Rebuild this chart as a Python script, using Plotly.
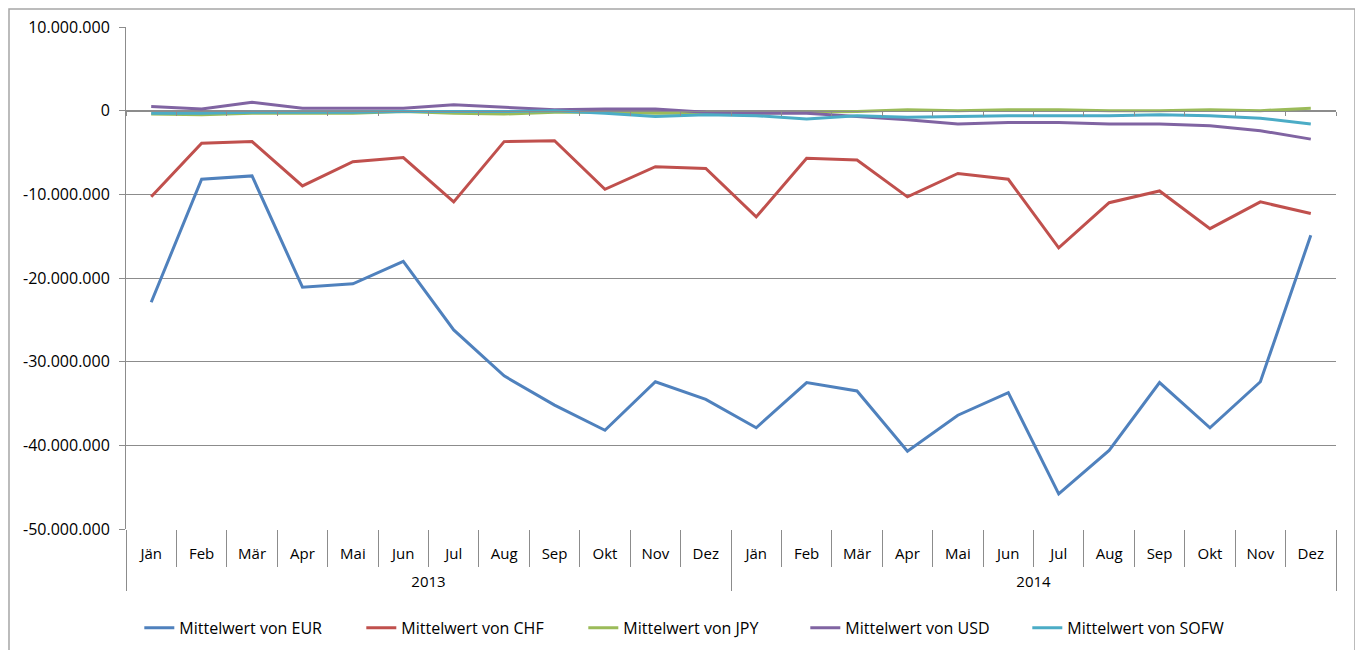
import plotly.graph_objects as go

years = ["2013"] * 12 + ["2014"] * 12
months = ["Jän", "Feb", "Mär", "Apr", "Mai", "Jun", "Jul", "Aug", "Sep", "Okt", "Nov", "Dez"] * 2

eur = [-22.9, -8.2, -7.8, -21.1, -20.7, -18.0, -26.2, -31.7, -35.2, -38.2, -32.4, -34.5,
       -37.9, -32.5, -33.5, -40.7, -36.4, -33.7, -45.8, -40.6, -32.5, -37.9, -32.4, -14.9]
chf = [-10.3, -3.9, -3.7, -9.0, -6.1, -5.6, -10.9, -3.7, -3.6, -9.4, -6.7, -6.9,
       -12.7, -5.7, -5.9, -10.3, -7.5, -8.2, -16.4, -11.0, -9.6, -14.1, -10.9, -12.3]
jpy = [-0.4, -0.5, -0.3, -0.3, -0.3, -0.1, -0.3, -0.4, -0.2, -0.2, -0.3, -0.3,
       -0.3, -0.2, -0.1, 0.1, 0.0, 0.1, 0.1, 0.0, 0.0, 0.1, 0.0, 0.3]
usd = [0.5, 0.2, 1.0, 0.3, 0.3, 0.3, 0.7, 0.4, 0.1, 0.2, 0.2, -0.2,
       -0.3, -0.3, -0.7, -1.1, -1.6, -1.4, -1.4, -1.6, -1.6, -1.8, -2.4, -3.4]
sofw = [-0.3, -0.3, -0.2, -0.2, -0.2, -0.1, -0.1, -0.1, 0.0, -0.3, -0.7, -0.5,
        -0.6, -1.0, -0.6, -0.8, -0.7, -0.6, -0.6, -0.6, -0.5, -0.6, -0.9, -1.6]

series_names = ["Mittelwert von EUR", "Mittelwert von CHF", "Mittelwert von JPY",
                "Mittelwert von USD", "Mittelwert von SOFW"]
series_values = [eur, chf, jpy, usd, sofw]
series_colors = ["#4F81BD", "#C0504D", "#9BBB59", "#8064A2", "#4BACC6"]

y_tickvals = [10e6, 0, -10e6, -20e6, -30e6, -40e6, -50e6]
y_ticktext = ["10.000.000", "0", "-10.000.000", "-20.000.000", "-30.000.000",
              "-40.000.000", "-50.000.000"]

FONT = "Open Sans"
GRID = "#8C8C8C"
XR = [-0.5, len(months) - 0.5]
# outer-level labels pushed one line down (Excel shows the year row well below the months)
year_labels = ["<br>" + y for y in years]

fig = go.Figure()
for name, vals, col in zip(series_names, series_values, series_colors):
    fig.add_trace(go.Scatter(
        x=[year_labels, months], y=[v * 1e6 for v in vals], name=name, mode="lines",
        line=dict(color=col, width=3), xaxis="x", yaxis="y"))

# helper trace for the category axis crossing at zero (tick marks only)
fig.add_trace(go.Scatter(x=[year_labels, months], y=[None] * 24, xaxis="x2", yaxis="y",
                         showlegend=False, hoverinfo="skip", mode="lines"))

fig.update_layout(
    width=1355, height=642,
    margin=dict(l=118, r=27, t=19, b=121, autoexpand=False),
    paper_bgcolor="white", plot_bgcolor="white",
    font=dict(family=FONT, size=15, color="#000000"),
    showlegend=True,
    legend=dict(orientation="h", x=0.011, xanchor="left", y=-0.197, yanchor="middle",
                entrywidth=177, entrywidthmode="pixels",
                font=dict(family=FONT, size=16), bgcolor="rgba(0,0,0,0)"),
    xaxis=dict(type="multicategory", range=XR, automargin=False, showgrid=False,
               showline=False, ticks="outside", tickson="boundaries", ticklen=37,
               tickcolor=GRID, tickwidth=1, showdividers=True, dividercolor=GRID,
               dividerwidth=1, ticklabelstandoff=14,
               tickfont=dict(family=FONT, size=15)),
    xaxis2=dict(type="multicategory", range=XR, overlaying="x", anchor="free",
                position=5 / 6, side="bottom", showgrid=False, showline=True,
                linecolor=GRID, ticks="outside", tickson="boundaries", ticklen=4,
                tickcolor=GRID, showticklabels=False, showdividers=False,
                automargin=False),
    yaxis=dict(range=[-50e6, 10e6], tickvals=y_tickvals, ticktext=y_ticktext,
               automargin=False, showgrid=True, gridcolor=GRID, gridwidth=1,
               zeroline=False, showline=True, linecolor=GRID, ticks="outside",
               ticklen=6, tickcolor=GRID, ticklabelstandoff=6,
               tickfont=dict(family=FONT, size=16)),
    shapes=[
        dict(type="rect", xref="paper", yref="paper", x0=-0.0967, x1=1.0157,
             y0=-0.26, y1=1.036, line=dict(color="#A6A6A6", width=1.5),
             fillcolor="rgba(0,0,0,0)", layer="below"),
    ],
)

fig.write_html("out.html")
